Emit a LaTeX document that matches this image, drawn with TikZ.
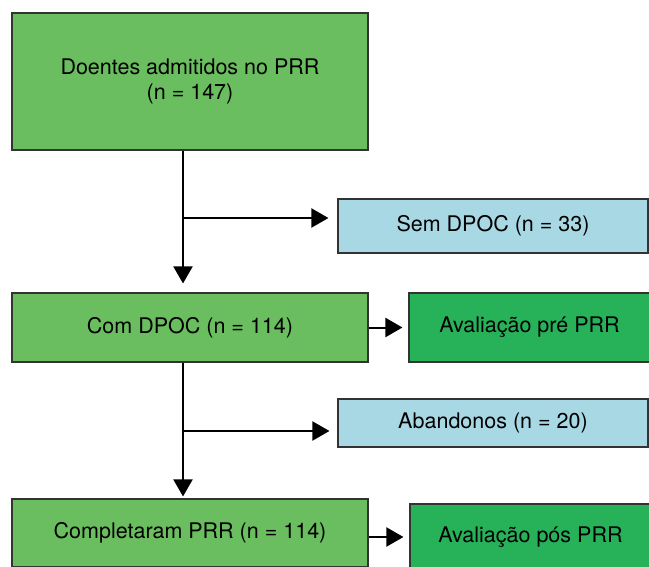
\documentclass[tikz,border=0pt]{standalone}
\usepackage{fontspec}
\setmainfont{TeX Gyre Heros}
\usetikzlibrary{arrows.meta}
\definecolor{verdeclaro}{RGB}{106,190,95}
\definecolor{verdeescuro}{RGB}{39,178,90}
\definecolor{azulclaro}{RGB}{168,216,227}

\begin{document}
\begin{tikzpicture}[x=1pt,y=-1pt,
    caixa/.style={draw=black!80,line width=1.1pt,inner sep=0pt,align=center,
      font=\fontsize{21.5}{25}\selectfont},
    seta/.style={line width=2pt,-{Triangle[length=17pt,width=19pt]}}]
                \useasboundingbox (0,0) rectangle (649,566);
                % caixas
                \node[caixa,fill=verdeclaro,minimum width=356,minimum height=137] (adm) at (190,81.5) {Doentes admitidos no PRR\\(n = 147)};
                \node[caixa,fill=azulclaro,minimum width=310,minimum height=54] (sem) at (493,226) {Sem DPOC (n = 33)};
                \node[caixa,fill=verdeclaro,minimum width=356,minimum height=69] (com) at (190,327.5) {Com DPOC (n = 114)};
                \node[caixa,fill=verdeescuro,minimum width=241,minimum height=69] (pre) at (529.5,327.5) {Avaliação pré PRR};
                \node[caixa,fill=azulclaro,minimum width=310,minimum height=48] (aba) at (493,423) {Abandonos (n = 20)};
                \node[caixa,fill=verdeclaro,minimum width=356,minimum height=68] (comp) at (190,533) {Completaram PRR (n = 114)};
                \node[caixa,fill=verdeescuro,minimum width=241,minimum height=66] (pos) at (530.5,537) {Avaliação pós PRR};
                % setas
                \coordinate (r1) at (183,218);
                \coordinate (r2) at (183,431);
                \draw[seta,shorten >=9pt] ([xshift=-7pt]adm.south) -- ([xshift=-7pt]com.north);
                \draw[seta,shorten >=9pt] (r1) -- (r1 -| sem.west);
                \draw[seta,shorten >=2pt] ([xshift=-7pt]com.south) -- ([xshift=-7pt]comp.north);
                \draw[seta,shorten >=8pt] (r2) -- (r2 -| aba.west);
                \draw[seta,shorten >=6pt] (com.east) -- (pre.west);
                \draw[seta,shorten >=6pt] (pos.west -| comp.east) -- (pos.west);
\end{tikzpicture}
\end{document}
